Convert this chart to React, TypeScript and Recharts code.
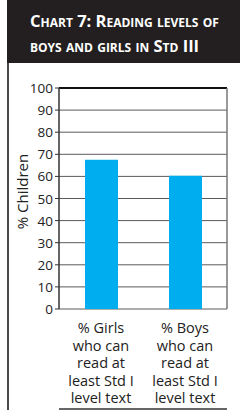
import React from 'react';
import { BarChart, Bar, XAxis, YAxis, CartesianGrid, ReferenceLine } from 'recharts';

const categories: string[][] = [
  ['% Girls', 'who can', 'read at', 'least Std I', 'level text'],
  ['% Boys', 'who can', 'read at', 'least Std I', 'level text'],
];
const values: number[] = [67.5, 60.3];
const yTicks: number[] = [0, 10, 20, 30, 40, 50, 60, 70, 80, 90, 100];
const edgeTicks: number[] = [0, 1, 2];
const titleLines: string[] = ['Chart 7: Reading levels of', 'boys and girls in Std III'];
const yLabel = '% Children';

const data = categories.map((lines, i) => ({ name: lines.join('|'), value: values[i] }));

const FONT = '"Open Sans", "DejaVu Sans", sans-serif';
const TFONT = '"Open Sans", sans-serif';

const CatTick = (props: any) => {
  const { x, y, payload } = props;
  const lines = String(payload.value).split('|');
  return (
    <text x={x} y={y} textAnchor="middle" fill="#222" style={{ fontSize: 14.5, fontFamily: TFONT }}>
      {lines.map((l, i) => (
        <tspan key={i} x={x} dy={i === 0 ? 16 : 17.6}>
          {l}
        </tspan>
      ))}
    </text>
  );
};

const ValTick = (props: any) => {
  const { x, y, payload } = props;
  return (
    <text
      x={x}
      y={y}
      textAnchor="end"
      dominantBaseline="central"
      fill="#222"
      style={{ fontSize: 13.5, fontFamily: TFONT }}
    >
      {payload.value}
    </text>
  );
};

const YLabel = (props: any) => {
  const vb = props.viewBox || { x: 0, y: 0, width: 0, height: 0 };
  const cx = vb.x + 21.5;
  const cy = vb.y + vb.height / 2 - 7;
  return (
    <text
      x={cx}
      y={cy}
      transform={`rotate(-90, ${cx}, ${cy})`}
      textAnchor="middle"
      dominantBaseline="central"
      fill="#222"
      style={{ fontSize: 15, fontFamily: TFONT }}
    >
      {yLabel}
    </text>
  );
};

export default function App() {
  return (
    <div style={{ position: 'absolute', left: 0, top: 0, width: 240, height: 410, background: '#fff', overflow: 'hidden' }}>
      <div
        style={{
          position: 'absolute',
          left: 7,
          top: 0,
          width: 233,
          height: 63,
          background: '#231f20',
        }}
      >
        {titleLines.map((t, i) => (
          <div
            key={i}
            style={{
              position: 'absolute',
              left: 23,
              top: 11 + i * 24.5,
              color: '#fff',
              fontFamily: FONT,
              fontWeight: 700,
              fontSize: 16.5,
              fontVariant: 'small-caps',
              whiteSpace: 'nowrap',
              lineHeight: '20px',
            }}
          >
            {t}
          </div>
        ))}
      </div>
      <div style={{ position: 'absolute', left: 7, top: 63, width: 2, height: 347, background: '#4a4a4a' }} />
      <div style={{ position: 'absolute', left: 0, top: 0 }}>
        <BarChart width={240} height={410} data={data} margin={{ top: 88, right: 12, bottom: 0, left: 0 }} barSize={33}>
          <CartesianGrid vertical={false} stroke="#5a5a5a" strokeWidth={1} />
          <XAxis
            xAxisId="edges"
            type="number"
            domain={[0, 2]}
            ticks={edgeTicks}
            tick={false}
            tickSize={4}
            height={1}
            stroke="#333"
            axisLine={{ stroke: '#333', strokeWidth: 1.5 }}
          />
          <XAxis
            dataKey="name"
            interval={0}
            tickLine={false}
            axisLine={false}
            height={100}
            tick={<CatTick />}
          />
          <YAxis
            domain={[0, 100]}
            ticks={yTicks}
            interval={0}
            width={59}
            tickSize={4}
            tickMargin={2}
            stroke="#333"
            axisLine={{ stroke: '#333', strokeWidth: 1.5 }}
            tick={<ValTick />}
            label={<YLabel />}
          />
          <YAxis
            yAxisId="right"
            orientation="right"
            domain={[0, 100]}
            tick={false}
            tickLine={false}
            width={1}
            axisLine={{ stroke: '#777', strokeWidth: 1.5 }}
          />
          <ReferenceLine y={100} stroke="#111" strokeWidth={2} />
          <Bar dataKey="value" fill="#00aeef" isAnimationActive={false} />
        </BarChart>
      </div>
    </div>
  );
}
